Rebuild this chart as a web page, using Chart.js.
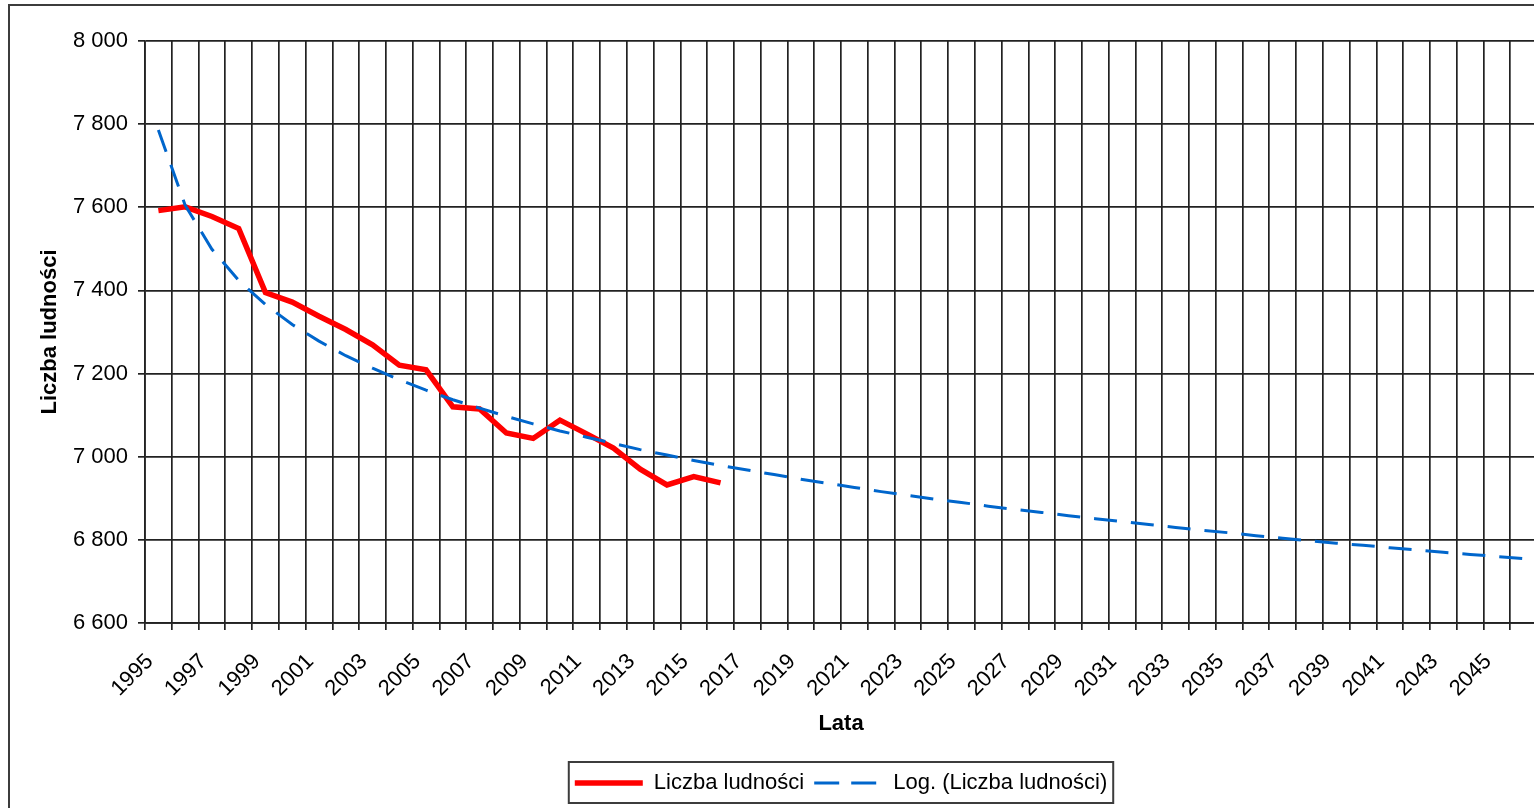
<!DOCTYPE html>
<html lang="pl">
<head>
<meta charset="utf-8">
<title>Liczba ludności</title>
<script src="https://cdn.jsdelivr.net/npm/chart.js@4"></script>
<style>
  html, body { margin: 0; padding: 0; background: #fff; overflow: hidden; }
  body { width: 1534px; height: 808px; position: relative; }
  #frame { position: absolute; left: 8px; top: 4px; width: 1600px; height: 900px; border: 2px solid #3c3c3c; }
  #wrap { position: absolute; left: 0; top: 0; width: 1560px; height: 808px; }
</style>
</head>
<body>
<div id="frame"></div>
<div id="wrap"><canvas id="chart"></canvas></div>
<script>
const years = [
  '1995', '1996', '1997', '1998', '1999', '2000', '2001', '2002', '2003', '2004',
  '2005', '2006', '2007', '2008', '2009', '2010', '2011', '2012', '2013', '2014',
  '2015', '2016', '2017', '2018', '2019', '2020', '2021', '2022', '2023', '2024',
  '2025', '2026', '2027', '2028', '2029', '2030', '2031', '2032', '2033', '2034',
  '2035', '2036', '2037', '2038', '2039', '2040', '2041', '2042', '2043', '2044',
  '2045', '2046'
];

// liczba ludności 1995-2016
const population = [
  7592, 7601, 7578, 7549, 7395, 7372, 7338, 7306, 7269, 7220,
  7209, 7120, 7115, 7057, 7044, 7088, 7055, 7021, 6970, 6932,
  6952, 6937
];

// linia trendu logarytmicznego 1995-2046
const trendLog = [
  7786, 7605, 7499, 7424, 7366, 7318, 7278, 7243, 7213, 7185,
  7160, 7137, 7117, 7097, 7079, 7062, 7047, 7032, 7017, 7004,
  6991, 6979, 6968, 6957, 6946, 6936, 6926, 6916, 6907, 6898,
  6890, 6881, 6873, 6866, 6858, 6851, 6844, 6837, 6830, 6823,
  6817, 6810, 6804, 6798, 6792, 6787, 6781, 6776, 6770, 6765,
  6760, 6755
];

const yMin = 6600;
const yMax = 8000;
const yStep = 200;

const FONT = "'Liberation Sans', Arial, sans-serif";
const GRID = '#222';

Chart.defaults.font.family = FONT;
Chart.defaults.color = '#000';

function spaced(v) {
  return String(v).replace(/\B(?=(\d{3})+(?!\d))/g, ' ');
}

// ramka wokol legendy
const legendFrame = {
  id: 'legendFrame',
  afterDraw(chart) {
    const boxes = chart.legend.legendHitBoxes;
    if (!boxes || !boxes.length) return;
    const left = Math.min(...boxes.map(b => b.left)) - 6;
    const right = Math.max(...boxes.map(b => b.left + b.width)) + 6;
    const top = boxes[0].top - 10;
    const bottom = boxes[0].top + boxes[0].height + 9;
    const ctx = chart.ctx;
    ctx.save();
    ctx.strokeStyle = '#3c3c3c';
    ctx.lineWidth = 2;
    ctx.strokeRect(left, top, right - left, bottom - top);
    ctx.restore();
  }
};

const context = document.getElementById('chart').getContext('2d');

new Chart(context, {
  type: 'line',
  data: {
    labels: years,
    datasets: [
      {
        label: 'Liczba ludności',
        data: population,
        borderColor: '#ff0000',
        backgroundColor: '#ff0000',
        borderWidth: 5.5,
        pointRadius: 0,
        tension: 0,
        order: 1,
      },
      {
        label: 'Log. (Liczba ludności)',
        data: trendLog,
        borderColor: '#0066cc',
        backgroundColor: '#0066cc',
        borderWidth: 3,
        borderDash: [23, 14],
        pointRadius: 0,
        tension: 0,
        order: 0,
      }
    ]
  },
  options: {
    responsive: true,
    maintainAspectRatio: false,
    animation: false,
    events: [],
    layout: {
      padding: {left: 33, top: 41, right: 23, bottom: 4}
    },
    plugins: {
      tooltip: {enabled: false},
      legend: {
        position: 'bottom',
        fullSize: false,
        labels: {
          boxWidth: 68,
          boxHeight: 0,
          padding: 10,
          color: '#000',
          font: {size: 22},
          sort: (a, b) => a.datasetIndex - b.datasetIndex,
        }
      }
    },
    scales: {
      x: {
        offset: true,
        grid: {
          offset: true,
          color: GRID,
          lineWidth: 1.7,
          tickLength: 7,
        },
        border: {color: GRID, width: 1.7},
        ticks: {
          autoSkip: false,
          minRotation: 45,
          maxRotation: 45,
          padding: 10,
          font: {size: 22},
          callback: function(value, index) {
            // dwie spacje na koncu przesuwaja opis w lewo-dol jak w oryginale
            return index % 2 === 0 ? this.getLabelForValue(value) + '  ' : '';
          }
        },
        title: {
          display: true,
          text: 'Lata',
          font: {size: 22, weight: 'bold'},
          padding: {top: 4, bottom: 25},
        },
        afterFit: (scale) => { scale.height = 139; }
      },
      y: {
        min: yMin,
        max: yMax,
        grid: {
          color: GRID,
          lineWidth: 1.7,
          tickLength: 7,
        },
        border: {color: GRID, width: 1.7},
        ticks: {
          stepSize: yStep,
          padding: 10,
          font: {size: 22},
          callback: (v) => spaced(v),
        },
        title: {
          display: true,
          text: 'Liczba ludności',
          font: {size: 22, weight: 'bold'},
          padding: {top: 4, bottom: 4},
        },
        afterFit: (scale) => { scale.width = 112; }
      }
    }
  },
  plugins: [legendFrame]
});
</script>
</body>
</html>
